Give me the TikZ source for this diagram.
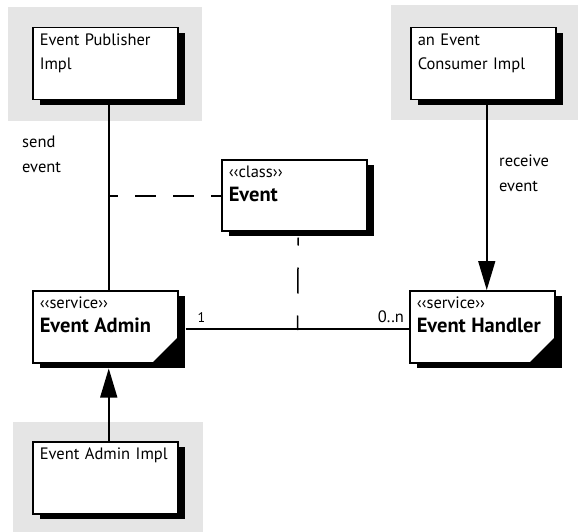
\documentclass[tikz,border=0pt]{standalone}
\usepackage{fontspec}
\setmainfont{PT Sans}
\usetikzlibrary{shadows,arrows.meta}
\newcommand{\umlstereo}[2]{‹‹#1››\\{\bfseries\fontsize{20.5}{24}\selectfont #2}}

\begin{document}
\begin{tikzpicture}[x=1pt, y=-1pt,
  impl area/.style={fill=black!10},
  uml box/.style={draw, line width=1.5pt, fill=white, anchor=north west, inner xsep=7pt, inner ysep=5pt, text width=131pt, align=left, text height=13pt, text depth=49pt, font=\fontsize{16.5}{23.5}\selectfont, drop shadow={shadow xshift=7pt, shadow yshift=-5pt, fill=black, opacity=1}},
  link/.style={line width=1.5pt},
  realize/.style={link, -{Triangle[length=29pt, width=17pt]}},
  depend/.style={link, dash pattern=on 21pt off 17pt},
  note/.style={font=\fontsize{16.5}{24.5}\selectfont, align=left, anchor=base west, inner sep=0pt}]
	\useasboundingbox (0,0) rectangle (578,532);
	\fill[impl area] (8,7) rectangle (202,121);
	\fill[impl area] (391,5) rectangle (578,120);
	\fill[impl area] (13,422) rectangle (203,532);
	\node[uml box] (pub) at (32,27) {Event Publisher\\Impl};
	\node[uml box] (cons) at (410,27) {an Event\\Consumer Impl};
	\node[uml box, text depth=48pt] (evt) at (221,159) {\umlstereo{class}{Event}};
	\node[uml box] (admin) at (32,290) {\umlstereo{service}{Event Admin}};
	\node[uml box] (handler) at (409,290) {\umlstereo{service}{Event Handler}};
	\node[uml box] (impl) at (32,441) {Event Admin Impl};
	\fill (admin.south east) -- ++(-27,0) -- ++(27,-27) -- cycle;
	\fill (handler.south east) -- ++(-27,0) -- ++(27,-27) -- cycle;
	\coordinate (sendpt) at (108,196);
	\coordinate (evtfoot) at (297.5,330);
	\draw[link] ([xshift=3.5pt, yshift=-5pt]pub.south) -- ([xshift=3.5pt]admin.north);
	\draw[depend, dash phase=11pt] (sendpt) -- (sendpt -| evt.west);
	\draw[link] ([xshift=7pt, yshift=-2pt]admin.east) -- node[pos=0, anchor=base west, xshift=8pt, yshift=6pt, font=\fontsize{14}{16}\selectfont] {1} node[pos=1, anchor=base east, xshift=-1pt, yshift=6pt, font=\fontsize{16.5}{16}\selectfont] {0..n} ([yshift=-2pt]handler.west);
	\draw[depend, dash pattern=on 26pt off 22pt, dash phase=18pt] ([xshift=4pt, yshift=-6pt]evt.south) -- (evtfoot);
	\draw[realize] ([xshift=3.5pt, yshift=-5pt]cons.south) -- ([xshift=4.5pt]handler.north);
	\draw[realize] ([xshift=3.5pt]impl.north) -- ([xshift=3.5pt, yshift=-5pt]admin.south);
	\node[note] (send) at (22,172) {send\\event};
	\node[note] (receive) at (499,191) {receive\\event};
\end{tikzpicture}
\end{document}
